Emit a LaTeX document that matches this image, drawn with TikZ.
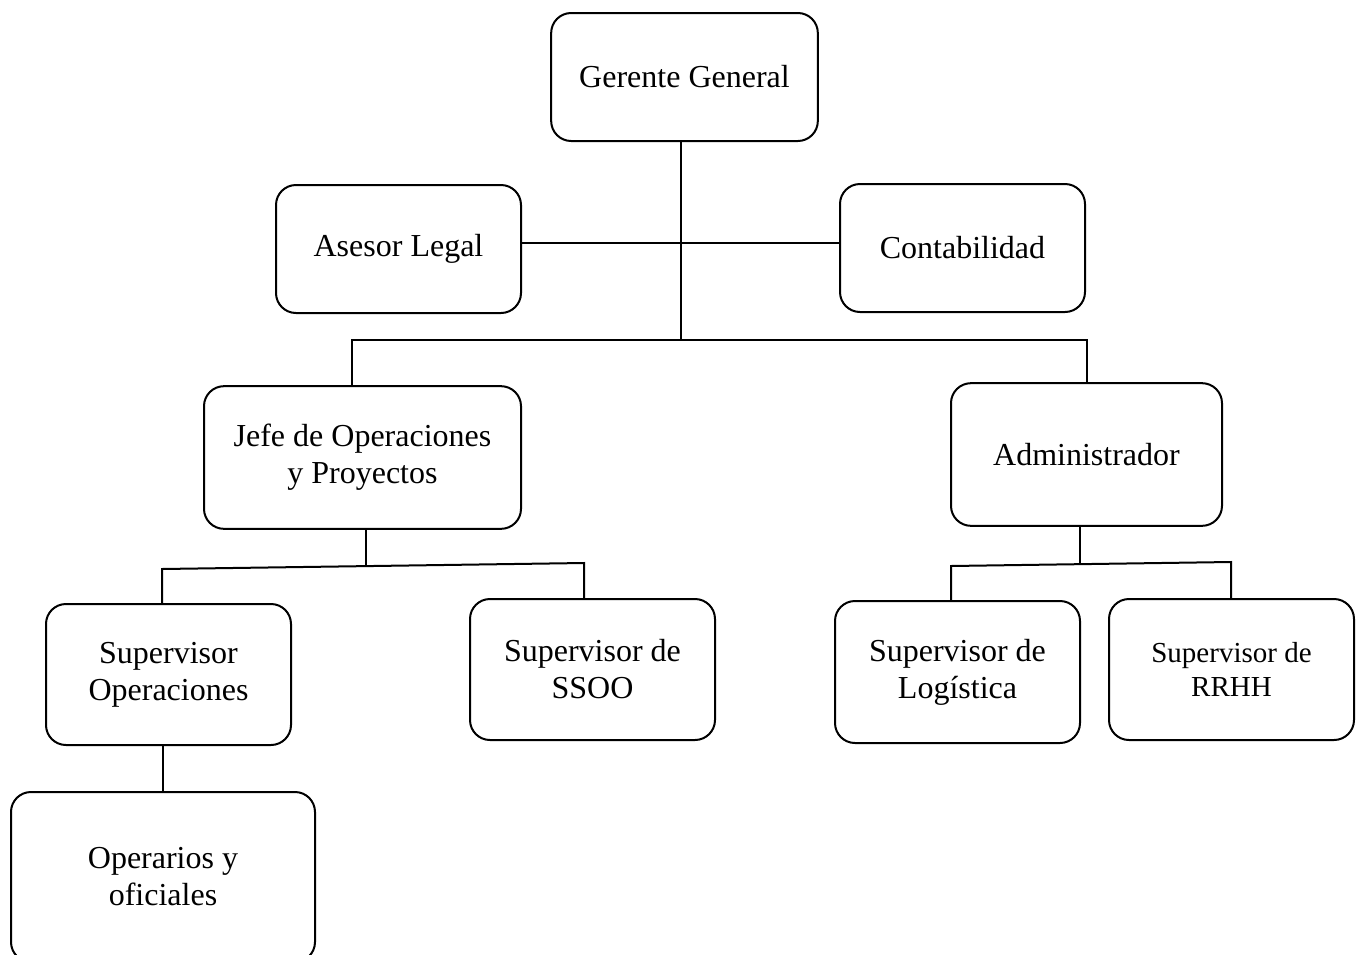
\documentclass[tikz,border=0pt]{standalone}
\usepackage{fontspec}
\setmainfont{Liberation Serif}
\usetikzlibrary{positioning}

\tikzset{
  orgbox/.style={draw, line width=1.5pt, rounded corners=15pt, align=center,
                 inner sep=0pt, minimum width=183.75pt, minimum height=96pt,
                 font=\fontsize{24}{27.75}\selectfont},
  link/.style={line width=1.5pt}
}

\begin{document}
\begin{tikzpicture}[x=0.75pt, y=-0.75pt]
    \useasboundingbox (0,0) rectangle (1361,954);
    % top levels
    \node[orgbox, minimum width=200pt] (gerente) at (684.5, 77) {Gerente General};
    \node[orgbox] (asesor) at (398.5, 249) {Asesor Legal};
    \node[orgbox] (conta)  at (962.5, 248) {Contabilidad};
    \node[orgbox, minimum width=237.75pt, minimum height=107pt] (jefe)  at (362.5, 457.5) {Jefe de Operaciones\\y Proyectos};
    \node[orgbox, minimum width=203.25pt, minimum height=107pt] (admin) at (1086.5, 454.5) {Administrador};
    % supervisors
    \node[orgbox, minimum height=105.75pt] (supop)   at (168.5, 674.5) {Supervisor\\Operaciones};
    \node[orgbox, minimum height=105.75pt] (supssoo) at (592.5, 669.5) {Supervisor de\\SSOO};
    \node[orgbox, minimum height=106.5pt]  (suplog)  at (957.5, 672)   {Supervisor de\\Logística};
    \node[orgbox, minimum height=105.75pt, font=\fontsize{21.75}{26}\selectfont] (suprrhh) at (1231.5, 669.5) {Supervisor de\\RRHH};
    \node[orgbox, minimum width=228pt, minimum height=127.5pt] (operarios) at (163, 877) {Operarios y\\oficiales};

    % connectors
    \coordinate (hub) at (681, 340);
    \coordinate (side) at (681, 243);
    \coordinate (jl) at (162, 569);
    \coordinate (jm) at (366, 566);
    \coordinate (jr) at (584, 563);
    \coordinate (al) at (951, 566);
    \coordinate (am) at (1080, 564);
    \coordinate (ar) at (1231, 562);
    \draw[link] (gerente.south -| hub) -- (hub);
    \draw[link] (asesor.east |- side) -- (conta.west |- side);
    \draw[link] (jefe.north -| 352,0) |- (hub) -| (admin.north);
    \draw[link] (jefe.south -| jm) -- (jm);
    \draw[link] (jl |- supop.north) -- (jl) -- (jr) -- (jr |- supssoo.north);
    \draw[link] (admin.south -| am) -- (am);
    \draw[link] (al |- suplog.north) -- (al) -- (ar) -- (ar |- suprrhh.north);
    \draw[link] (supop.south -| operarios.north) -- (operarios.north);
\end{tikzpicture}
\end{document}
